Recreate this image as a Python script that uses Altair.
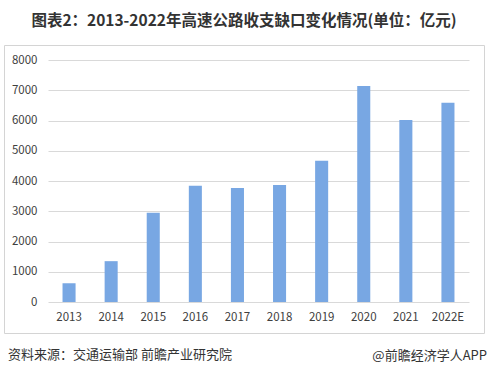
import altair as alt
import pandas as pd

years = ["2013", "2014", "2015", "2016", "2017", "2018", "2019", "2020", "2021", "2022E"]
gap = [620, 1350, 2950, 3840, 3770, 3870, 4670, 7140, 6020, 6590]
y_ticks = [0, 1000, 2000, 3000, 4000, 5000, 6000, 7000, 8000]

title_text = "图表2：2013-2022年高速公路收支缺口变化情况(单位：亿元)"
source_text = "资料来源：交通运输部 前瞻产业研究院"
brand_text = "@前瞻经济学人APP"

FONT = "Noto Sans CJK SC"

df = pd.DataFrame({"year": years, "gap": gap})

bars = alt.Chart(df).mark_bar(color="#78A7E3").encode(
    x=alt.X("year:N", sort=years,
            scale=alt.Scale(paddingInner=0.69, paddingOuter=0.345),
            axis=alt.Axis(title=None, labelAngle=0, ticks=False, domain=False,
                          labelPadding=9, labelFontSize=11.5, labelColor="#404040",
                          labelFont=FONT)),
    y=alt.Y("gap:Q", scale=alt.Scale(domain=[0, 8000], nice=False),
            axis=alt.Axis(title=None, values=y_ticks, format="d", ticks=False, domain=False,
                          labelPadding=11, labelFontSize=11.5, labelColor="#404040",
                          labelFont=FONT, gridColor="#d9d9d9", gridWidth=1)),
)

one = pd.DataFrame({"t": [0]})

frame = alt.Chart(one).mark_rect(fill=None, stroke="#d4d4d4", strokeWidth=1).encode(
    x=alt.value(-43.5), x2=alt.value(436.5), y=alt.value(-14.5), y2=alt.value(273.5)
)

title = alt.Chart(pd.DataFrame({"t": [title_text]})).mark_text(
    font=FONT, fontSize=15.5, fontWeight="bold", color="#333333",
    align="center", baseline="middle"
).encode(text="t:N", x=alt.value(196), y=alt.value(-39))

source = alt.Chart(pd.DataFrame({"t": [source_text]})).mark_text(
    font=FONT, fontSize=13, color="#333333", align="left", baseline="middle"
).encode(text="t:N", x=alt.value(-40), y=alt.value(295))

brand = alt.Chart(pd.DataFrame({"t": [brand_text]})).mark_text(
    font=FONT, fontSize=13, color="#333333", align="right", baseline="middle"
).encode(text="t:N", x=alt.value(439), y=alt.value(296))

chart = alt.layer(frame, bars, title, source, brand).properties(
    width=421, height=242,
    padding={"left": 48, "top": 60, "right": 19, "bottom": 75},
    autosize=alt.AutoSizeParams(type="none"),
    background="white",
).configure_view(stroke=None)

chart.save("out.html", embed_options={"renderer": "svg", "actions": False})
